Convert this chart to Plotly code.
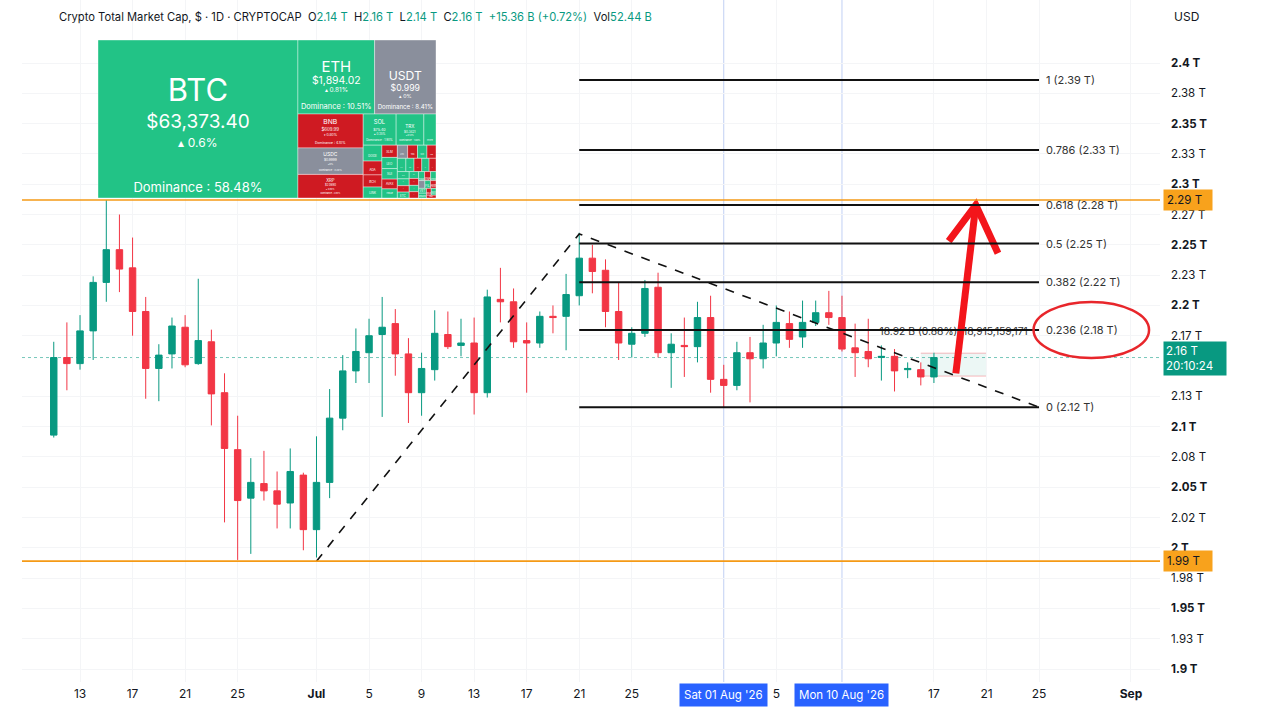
import pandas as pd
import plotly.graph_objects as go

# ---------------- data ----------------
dates = pd.date_range("2026-06-11", "2026-08-17", freq="D")
opens = [2.093, 2.157, 2.152, 2.179, 2.219, 2.246, 2.231, 2.195, 2.148, 2.160,
         2.182, 2.152, 2.170, 2.128, 2.081, 2.041, 2.053, 2.047, 2.037, 2.060,
         2.015, 2.054, 2.107, 2.146, 2.161, 2.176, 2.185, 2.160, 2.128, 2.147,
         2.176, 2.167, 2.169, 2.128, 2.205, 2.203, 2.171, 2.169, 2.191, 2.191,
         2.208, 2.239, 2.229, 2.195, 2.168, 2.177, 2.215, 2.161, 2.167, 2.166,
         2.190, 2.139, 2.134, 2.161, 2.156, 2.169, 2.185, 2.174, 2.186, 2.194,
         2.190, 2.165, 2.162, 2.157, 2.158, 2.147, 2.147, 2.141]
highs = [2.170, 2.186, 2.192, 2.224, 2.287, 2.275, 2.256, 2.207, 2.168, 2.190,
         2.192, 2.222, 2.180, 2.144, 2.109, 2.074, 2.080, 2.063, 2.082, 2.062,
         2.092, 2.131, 2.159, 2.181, 2.189, 2.207, 2.197, 2.173, 2.161, 2.196,
         2.195, 2.189, 2.190, 2.213, 2.231, 2.214, 2.186, 2.195, 2.200, 2.226,
         2.260, 2.250, 2.238, 2.219, 2.182, 2.221, 2.227, 2.177, 2.190, 2.203,
         2.208, 2.151, 2.170, 2.174, 2.184, 2.200, 2.195, 2.204, 2.204, 2.212,
         2.208, 2.185, 2.189, 2.167, 2.164, 2.153, 2.153, 2.161]
lows = [2.091, 2.130, 2.147, 2.155, 2.203, 2.211, 2.175, 2.123, 2.121, 2.148,
        2.149, 2.151, 2.101, 2.021, 1.990, 1.995, 2.039, 2.016, 2.016, 1.998,
        1.992, 2.041, 2.097, 2.136, 2.136, 2.108, 2.142, 2.103, 2.109, 2.138,
        2.164, 2.158, 2.110, 2.124, 2.186, 2.165, 2.128, 2.165, 2.177, 2.163,
        2.200, 2.210, 2.182, 2.155, 2.157, 2.174, 2.157, 2.132, 2.141, 2.153,
        2.128, 2.116, 2.130, 2.120, 2.148, 2.158, 2.165, 2.165, 2.183, 2.184,
        2.162, 2.141, 2.149, 2.138, 2.129, 2.140, 2.134, 2.136]
closes = [2.157, 2.152, 2.179, 2.219, 2.246, 2.230, 2.195, 2.148, 2.159, 2.183,
          2.151, 2.171, 2.127, 2.082, 2.039, 2.054, 2.047, 2.036, 2.063, 2.015,
          2.054, 2.107, 2.146, 2.162, 2.175, 2.182, 2.160, 2.128, 2.148, 2.177,
          2.166, 2.169, 2.128, 2.207, 2.203, 2.170, 2.169, 2.191, 2.190, 2.209,
          2.239, 2.228, 2.195, 2.169, 2.177, 2.214, 2.161, 2.168, 2.166, 2.190,
          2.139, 2.134, 2.161, 2.156, 2.169, 2.186, 2.172, 2.186, 2.194, 2.190,
          2.164, 2.161, 2.156, 2.158, 2.146, 2.148, 2.141, 2.157]

# y axis ticks (2.15 sits under the live price tag, so it is not listed)
y_tickvals = [2.4, 2.375, 2.35, 2.325, 2.3, 2.275, 2.25, 2.225, 2.2, 2.175,
              2.125, 2.1, 2.075, 2.05, 2.025, 2.0, 1.975, 1.95, 1.925, 1.9]
y_ticktext = ["<b>2.4 T</b>", "2.38 T", "<b>2.35 T</b>", "2.33 T", "<b>2.3 T</b>", "2.27 T",
              "<b>2.25 T</b>", "2.23 T", "<b>2.2 T</b>", "2.17 T", "2.13 T",
              "<b>2.1 T</b>", "2.08 T", "<b>2.05 T</b>", "2.02 T", "<b>2 T</b>", "1.98 T",
              "<b>1.95 T</b>", "1.93 T", "<b>1.9 T</b>"]
# x axis ticks
x_tickvals = ["2026-06-13", "2026-06-17", "2026-06-21", "2026-06-25", "2026-07-01",
              "2026-07-05", "2026-07-09", "2026-07-13", "2026-07-17", "2026-07-21",
              "2026-07-25", "2026-08-05", "2026-08-17", "2026-08-21", "2026-08-25",
              "2026-09-01"]
x_ticktext = ["13", "17", "21", "25", "<b>Jul</b>", "5", "9", "13", "17", "21", "25",
              "5", "17", "21", "25", "<b>Sep</b>"]
highlight_dates = ["2026-08-01", "2026-08-10"]
highlight_labels = ["Sat 01 Aug '26", "Mon 10 Aug '26"]

# horizontal levels
orange_levels = [2.287, 1.989]
orange_labels = ["2.29 T", "1.99 T"]
last_price = closes[-1]

# trend-based fib extension points (A, B, C)
fib_dates = ["2026-07-01", "2026-07-21", "2026-08-25"]
fib_prices = [1.989, 2.259, 2.116]
fib_ratios = [1, 0.786, 0.618, 0.5, 0.382, 0.236, 0]
fib_ratio_labels = ["1", "0.786", "0.618", "0.5", "0.382", "0.236", "0"]

# price range measure
measure_dates = ["2026-08-16", "2026-08-21"]
measure_prices = [2.1417, 2.1606]
measure_label = "18.92 B (0.88%)  18,915,159,171"

# hand drawn arrow and ellipse
arrow_dates = ["2026-08-18 16:00", "2026-08-20 04:30"]
arrow_prices = [2.144, 2.2829]
arrow_head_dates = ["2026-08-18 03:00", "2026-08-20 04:30", "2026-08-21 21:00"]
arrow_head_prices = [2.253, 2.2829, 2.243]
ellipse_dates = ["2026-08-24 14:00", "2026-09-02 09:00"]
ellipse_prices = [2.1566, 2.2028]

# heatmap inset
tm_symbols = ["BTC", "ETH", "USDT", "BNB", "USDC", "XRP", "SOL", "TRX",
              "HYPE", "DOGE", "ADA", "BCH", "LINK", "XLM", "LEO", "SUI", "AVAX", "HBAR",
              "LTC", "TON", "SHIB", "XMR", "DOT", "UNI", "PEPE", "AAVE", "CRO", "NEAR",
              "APT", "ICP", "ETC", "ONDO", "POL", "MNT", "KAS", "TAO", "ENA", "ATOM",
              "ALGO", "FIL", "ARB", "VET", "RENDER", "WLD", "SEI", "INJ"]
tm_dominance = [58.48, 10.51, 8.41, 4.10, 3.20, 2.85, 1.90, 1.60,
                0.70, 0.55, 0.48, 0.42, 0.38, 0.35, 0.32, 0.30, 0.28, 0.26,
                0.25, 0.24, 0.23, 0.22, 0.21, 0.20, 0.19, 0.18, 0.17, 0.16,
                0.15, 0.14, 0.13, 0.12, 0.12, 0.11, 0.11, 0.10, 0.10, 0.09,
                0.09, 0.08, 0.08, 0.07, 0.07, 0.06, 0.06, 0.05]
tm_price = ["$63,373.40", "$1,894.02", "$0.999", "$609.99", "$0.9999", "$2.0690", "$75.40", "$0.3421"]
tm_change = ["▴ 0.6%", "▴ 0.81%", "▴ 0%", "▾ 0.80%", "▴ 0%", "▾ 0.90%", "▴ 0.35%", "▴ 0.12%"]
tm_state = ["up", "up", "flat", "down", "flat", "down", "up", "up",
            "up", "up", "down", "down", "up", "down", "up", "up", "down", "up",
            "flat", "down", "up", "down", "up", "up", "down", "up", "down", "up",
            "up", "down", "up", "up", "down", "up", "down", "up", "down", "up",
            "flat", "up", "down", "up", "up", "down", "up", "down"]

GREEN = "#089981"
RED = "#F23645"
TEXT = "#131722"
FONT = "Inter"

fig = go.Figure()

fig.add_trace(go.Candlestick(
    x=dates, open=opens, high=highs, low=lows, close=closes,
    increasing=dict(line=dict(color=GREEN, width=1), fillcolor=GREEN),
    decreasing=dict(line=dict(color=RED, width=1), fillcolor=RED),
    whiskerwidth=0, showlegend=False, hoverinfo="skip"))

# A-B-C dashed trend line
fig.add_trace(go.Scatter(x=fib_dates, y=fib_prices, mode="lines",
                         line=dict(color="#111111", width=1.6, dash="dash"),
                         showlegend=False, hoverinfo="skip"))

# measure label (text trace so the arrow can cover it)
m0, m1 = pd.Timestamp(measure_dates[0]), pd.Timestamp(measure_dates[1])
fig.add_trace(go.Scatter(x=[m0 + (m1 - m0) / 2], y=[2.1775], mode="text", text=[measure_label],
                         textfont=dict(family=FONT, size=10.3, color="#333333"),
                         showlegend=False, hoverinfo="skip"))

# red hand-drawn arrow
fig.add_trace(go.Scatter(x=arrow_dates, y=arrow_prices, mode="lines",
                         line=dict(color="#f3151b", width=7),
                         showlegend=False, hoverinfo="skip"))
fig.add_trace(go.Scatter(x=arrow_head_dates, y=arrow_head_prices, mode="lines",
                         line=dict(color="#f3151b", width=7),
                         showlegend=False, hoverinfo="skip"))


# heatmap inset as a treemap
def tile_text(sizes, gaps, parts):
    out = f"<span style='font-size:{sizes[0]}px'>{parts[0]}</span>"
    for sz, g, p in zip(sizes[1:], gaps, parts[1:]):
        out += "<br> " * (g - 1) + f"<br><span style='font-size:{sz}px'>{p}</span>"
    return out


colmap = {"up": "#22c386", "down": "#cf1a22", "flat": "#8a8f9c"}
tm_text = []
tm_sizes = []
for i, s in enumerate(tm_symbols):
    if i < 8:
        parts = [s, tm_price[i], tm_change[i], f"Dominance : {tm_dominance[i]:.2f}%"]
    if i == 0:
        tm_text.append(tile_text([31, 19, 12, 13], [3, 2, 5], parts))
        tm_sizes.append(7)
    elif i == 1:
        tm_text.append(tile_text([15, 10.5, 6.5, 7.5], [3, 2, 4], parts))
        tm_sizes.append(3.2)
    elif i == 2:
        tm_text.append(tile_text([14, 10, 6, 7], [3, 2, 3], parts))
        tm_sizes.append(3.2)
    elif i < 8:
        tm_text.append(tile_text([7, 4.5, 3.5, 3.5], [3, 2, 3], parts))
        tm_sizes.append(2)
    else:
        tm_text.append(f"<span style='font-size:3px'>{s}</span>")
        tm_sizes.append(3)

fig.add_trace(go.Treemap(
    labels=["root"] + tm_symbols,
    parents=[""] + ["root"] * len(tm_symbols),
    values=[0] + tm_dominance,
    branchvalues="remainder",
    text=[""] + tm_text,
    texttemplate="%{text}",
    textposition="bottom center",
    textfont=dict(family=FONT, color="white", size=[1] + tm_sizes),
    marker=dict(colors=["rgba(0,0,0,0)"] + [colmap[s] for s in tm_state],
                line=dict(color="rgba(255,255,255,0.55)", width=0.7),
                pad=dict(t=0, l=0, r=0, b=0)),
    tiling=dict(packing="squarify", squarifyratio=1.7, pad=0),
    pathbar=dict(visible=False),
    root=dict(color="rgba(0,0,0,0)"),
    sort=True,
    domain=dict(x=[(98 - 22) / 1138, (436 - 22) / 1138], y=[1 - 198 / 682, 1 - 40 / 682]),
    hoverinfo="skip"))

# ---------------- shapes ----------------
shapes = []
for d in highlight_dates:
    shapes.append(dict(type="line", xref="x", yref="paper", x0=d, x1=d, y0=0, y1=1,
                       line=dict(color="rgba(120,150,230,0.45)", width=1), layer="below"))
shapes.append(dict(type="line", xref="paper", yref="y", x0=0, x1=1, y0=last_price, y1=last_price,
                   line=dict(color="rgba(8,153,129,0.55)", width=1, dash="dot"), layer="below"))
for lv in orange_levels:
    shapes.append(dict(type="line", xref="paper", yref="y", x0=0, x1=1, y0=lv, y1=lv,
                       line=dict(color="#f59a16", width=1.6), layer="above"))
rng = fib_prices[1] - fib_prices[0]
fib_levels = [fib_prices[2] + r * rng for r in fib_ratios]
for lv in fib_levels:
    shapes.append(dict(type="line", xref="x", yref="y", x0=fib_dates[1], x1=fib_dates[2], y0=lv, y1=lv,
                       line=dict(color="#111111", width=2), layer="above"))
shapes.append(dict(type="rect", xref="x", yref="y", x0=measure_dates[0], x1=measure_dates[1],
                   y0=measure_prices[0], y1=measure_prices[1],
                   fillcolor="rgba(8,153,129,0.08)", line=dict(width=0), layer="below"))
for p in measure_prices:
    shapes.append(dict(type="line", xref="x", yref="y", x0=measure_dates[0], x1=measure_dates[1],
                       y0=p, y1=p, line=dict(color="rgba(242,54,69,0.35)", width=1), layer="below"))
shapes.append(dict(type="circle", xref="x", yref="y", x0=ellipse_dates[0], x1=ellipse_dates[1],
                   y0=ellipse_prices[0], y1=ellipse_prices[1],
                   line=dict(color="#e8262b", width=2.5), layer="above"))

# ---------------- annotations ----------------
ann = []
for r, lv in zip(fib_ratio_labels, fib_levels):
    ann.append(dict(x=fib_dates[2], y=lv, xref="x", yref="y", text=f"{r} ({lv:.2f} T)",
                    showarrow=False, xanchor="left", xshift=5,
                    font=dict(family=FONT, size=11, color="#333333")))
for lv, lab in zip(orange_levels, orange_labels):
    ann.append(dict(x=1, y=lv, xref="paper", yref="y", text=lab, showarrow=False,
                    xanchor="left", xshift=3, bgcolor="#f8a21c", borderpad=3, width=42,
                    align="left", font=dict(family=FONT, size=11.5, color=TEXT)))
ann.append(dict(x=1, y=last_price, xref="paper", yref="y", text="2.16 T<br>20:10:24",
                showarrow=False, xanchor="left", xshift=3, yshift=-1, bgcolor=GREEN, borderpad=2,
                width=58, align="left", font=dict(family=FONT, size=11.5, color="white")))
for d, lab in zip(highlight_dates, highlight_labels):
    ann.append(dict(x=d, y=0, xref="x", yref="paper", text=lab, showarrow=False,
                    yanchor="top", yshift=-1, bgcolor="#2962ff", borderpad=4,
                    font=dict(family=FONT, size=11.5, color="white")))
hdr_vals = ["2.14 T", "2.16 T", "2.14 T", "2.16 T"]
hdr = ("Crypto Total Market Cap, $ · 1D · CRYPTOCAP  "
       + "  ".join(f"{k}<span style='color:{GREEN}'>{v}</span>" for k, v in zip("OHLC", hdr_vals))
       + f"  <span style='color:{GREEN}'>+15.36 B (+0.72%)</span>  Vol<span style='color:{GREEN}'>52.44 B</span>")
ann.append(dict(x=(57 - 22) / 1138, y=1 - 17 / 682, xref="paper", yref="paper", text=hdr,
                showarrow=False, xanchor="left", yanchor="middle",
                font=dict(family=FONT, size=11.2, color=TEXT)))
ann.append(dict(x=(1186 - 22) / 1138, y=1 - 17 / 682, xref="paper", yref="paper", text="USD",
                showarrow=False, xanchor="center", yanchor="middle",
                font=dict(family=FONT, size=12, color=TEXT)))

fig.update_layout(
    width=1280, height=720,
    margin=dict(l=22, r=120, t=0, b=38),
    paper_bgcolor="white", plot_bgcolor="white",
    showlegend=False,
    shapes=shapes, annotations=ann,
    font=dict(family=FONT, color=TEXT),
    xaxis=dict(type="date", range=["2026-06-08 14:00", "2026-09-03 05:00"],
               rangeslider=dict(visible=False),
               tickmode="array", tickvals=x_tickvals, ticktext=x_ticktext,
               tickfont=dict(family=FONT, size=12, color=TEXT),
               showgrid=True, gridcolor="#f4f5f7", zeroline=False, showline=False,
               ticks="", ticklabelstandoff=3),
    yaxis=dict(side="right", range=[1.8893, 2.452],
               tickmode="array", tickvals=y_tickvals, ticktext=y_ticktext,
               tickfont=dict(family=FONT, size=11.5, color=TEXT),
               showgrid=True, gridcolor="#f4f5f7", zeroline=False, showline=False,
               ticks="", ticklabelstandoff=10),
)

fig.write_html("out.html", config={"displayModeBar": False},
               post_script="document.body.style.margin='0px';")
